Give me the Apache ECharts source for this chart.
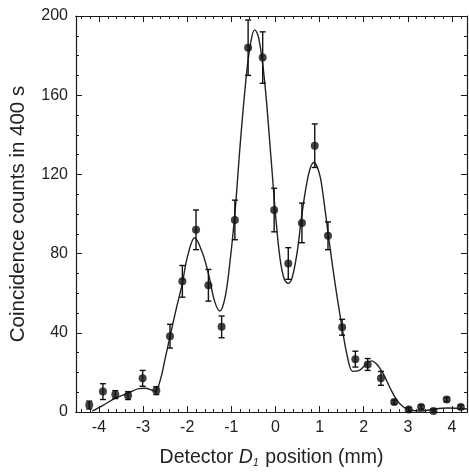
<!DOCTYPE html>
<html><head><meta charset="utf-8">
<script src="https://cdn.jsdelivr.net/npm/echarts@6/dist/echarts.min.js"></script>
<style>html,body{margin:0;padding:0;background:#fff}#c{width:469px;height:473px}</style>
</head><body><div id="c"></div>
<script>
// measured data points (detector position in mm, coincidence counts, error)
const positions = [-4.22,-3.91,-3.63,-3.34,-3.01,-2.70,-2.39,-2.11,-1.80,-1.52,-1.22,-0.92,-0.62,-0.29,-0.03,0.29,0.60,0.89,1.19,1.51,1.81,2.09,2.39,2.69,3.02,3.30,3.58,3.88,4.20];
const counts    = [3.5,10.3,8.8,8.3,17,10.8,38.3,66,92,64,43,97,184,179,102,75,95.5,134.5,89,42.8,26.7,24,17,5,1.2,2.5,0.5,6.3,2.5];
const errors    = [2,4,2,2,4,2,6,8,10,8,5.5,10,14,13,11,8,10,11,7,4,4,3,3.5,1,1,1,1,1,1];
// theoretical fit curve
const fitX = [-4.15,-3.9,-3.63,-3.34,-3.1,-2.95,-2.8,-2.72,-2.6,-2.5,-2.39,-2.25,-2.11,-2.0,-1.83,-1.65,-1.5,-1.38,-1.26,-1.15,-1.05,-0.92,-0.8,-0.65,-0.55,-0.47,-0.38,-0.25,-0.1,0.0,0.1,0.2,0.29,0.38,0.5,0.6,0.75,0.87,1.0,1.1,1.2,1.35,1.5,1.62,1.75,1.9,2.05,2.17,2.3,2.45,2.6,2.75,2.9,3.05,3.3,3.6,3.9,4.34];
const fitY = [0.5,3.5,7,9.5,11.8,12,11,10.5,17,27,38,52,65,78,88,80,68,56,51,57,72,100,135,172,188,193,189,168,128,100,78,67,65,68,82,100,120,126,120,106,89,65,44,29,20.5,21,24,25.8,24,19,12,6,2.5,1,0.5,1.5,2,1.5];
// ticks
const xTickLabels = [-4,-3,-2,-1,0,1,2,3,4];
const xMinorTicks = [];
for (let k = -22; k <= 21; k++) { if (k % 5 !== 0) xMinorTicks.push(+(k*0.2).toFixed(1)); }
const yTickLabels = [0,40,80,120,160,200];

const FONT = 'Liberation Sans, Arial, sans-serif';
const X_MIN = -4.52, X_MAX = 4.34;
const lineC = '#1a1a1a';

function xAx(pos, ticks, len, labels){
  return {
    type:'value', min:X_MIN, max:X_MAX, position:pos,
    axisLine:{show:true, onZero:false, lineStyle:{color:lineC, width:1.2}},
    axisTick:{show:true, inside:true, length:len, customValues:ticks, lineStyle:{color:lineC, width:1}},
    axisLabel: labels ? {show:true, customValues:xTickLabels, fontFamily:FONT, fontSize:16, color:'#222', margin:8} : {show:false},
    splitLine:{show:false}
  };
}
function yAx(pos, labels){
  return {
    type:'value', min:0, max:200, interval:40, position:pos,
    axisLine:{show:true, onZero:false, lineStyle:{color:lineC, width:1.2}},
    axisTick:{show:true, inside:true, length:6, lineStyle:{color:lineC, width:1}},
    minorTick:{show:true, splitNumber:4, length:3, lineStyle:{color:lineC, width:1}},
    axisLabel: labels ? {show:true, fontFamily:FONT, fontSize:16, color:'#222', margin:8} : {show:false},
    splitLine:{show:false}
  };
}

const xMain = xAx('bottom', xTickLabels, 6, true);
xMain.name = '{n|Detector }{d|D}{s|1}{n| position (mm)}';
xMain.nameLocation = 'middle';
xMain.nameGap = 36;
xMain.nameTextStyle = {fontFamily:FONT, fontSize:19.5, color:'#222',
  rich:{n:{fontFamily:FONT, fontSize:19.5, color:'#222'},
        d:{fontFamily:FONT, fontSize:19.5, color:'#222', fontStyle:'italic'},
        s:{fontFamily:FONT, fontSize:11, color:'#222', fontStyle:'italic', padding:[9,1,0,0]}}};
const yMain = yAx('left', true);
yMain.name = 'Coincidence counts in 400 s';
yMain.nameLocation = 'middle';
yMain.nameGap = 47;
yMain.nameTextStyle = {fontFamily:FONT, fontSize:20.5, color:'#222'};

const chart = echarts.init(document.getElementById('c'), null, {renderer:'canvas'});
chart.setOption({
  backgroundColor:'#fff',
  animation:false,
  grid:{left:74, right:2, top:16, bottom:58},
  xAxis:[xMain, xAx('bottom', xMinorTicks, 3, false), xAx('top', xTickLabels, 6, false), xAx('top', xMinorTicks, 3, false)],
  yAxis:[yMain, yAx('right', false)],
  series:[
    {type:'line', xAxisIndex:0, yAxisIndex:0, data:fitX.map((x,i)=>[x,fitY[i]]), smooth:0.35, showSymbol:false,
     lineStyle:{color:'#222', width:1.4}, z:2},
    {type:'custom', xAxisIndex:0, yAxisIndex:0, data:positions.map((x,i)=>[x,counts[i],errors[i]]), z:3,
     renderItem:function(params, api){
       const x = api.value(0), y = api.value(1), e = api.value(2);
       const hi = api.coord([x, Math.min(200, y+e)]);
       const lo = api.coord([x, Math.max(0, y-e)]);
       const cw = 3;
       const st = {stroke:'#111', lineWidth:1.4};
       return {type:'group', children:[
         {type:'line', shape:{x1:hi[0], y1:hi[1], x2:lo[0], y2:lo[1]}, style:st},
         {type:'line', shape:{x1:hi[0]-cw, y1:hi[1], x2:hi[0]+cw, y2:hi[1]}, style:st},
         {type:'line', shape:{x1:lo[0]-cw, y1:lo[1], x2:lo[0]+cw, y2:lo[1]}, style:st}
       ]};
     }},
    {type:'scatter', xAxisIndex:0, yAxisIndex:0, data:positions.map((x,i)=>[x,counts[i]]), symbol:'circle', symbolSize:8,
     itemStyle:{color:'#111'}, z:4}
  ]
});
</script></body></html>
